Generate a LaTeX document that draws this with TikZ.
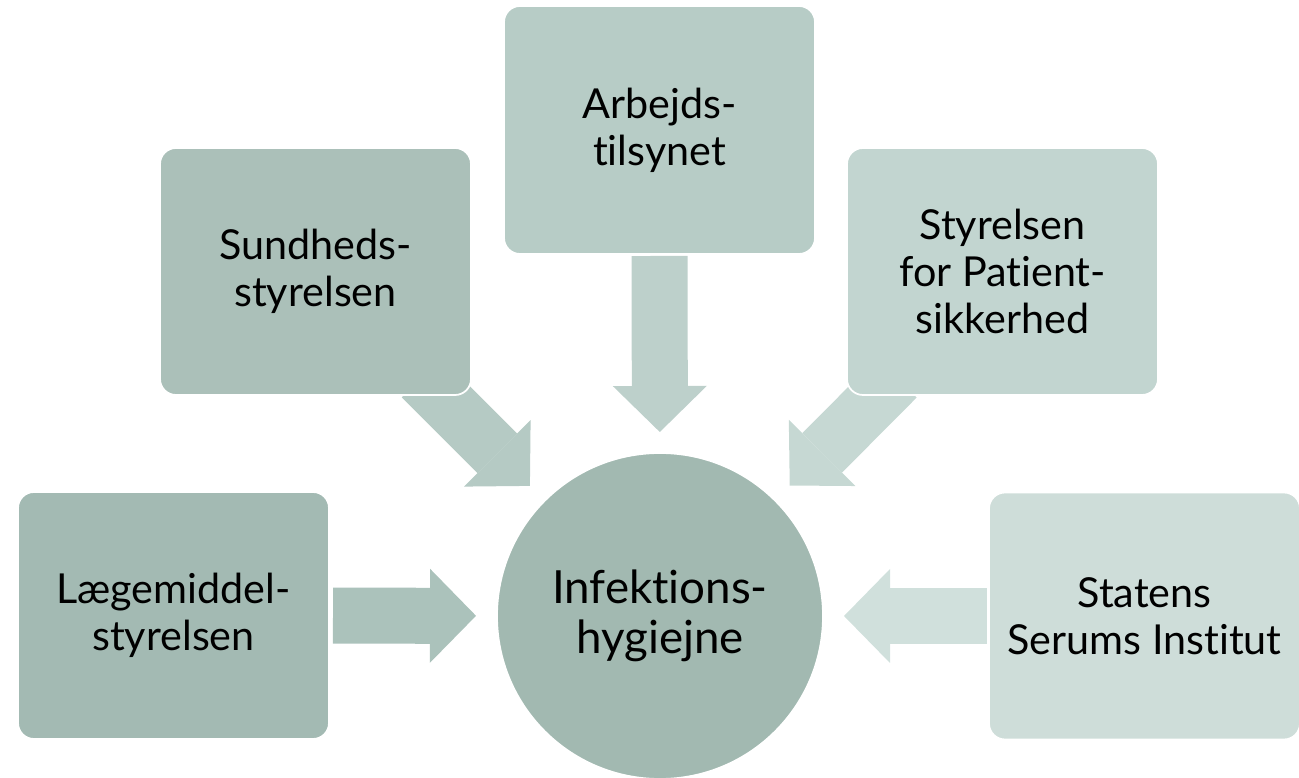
\documentclass[tikz,border=0pt]{standalone}
\usepackage{fontspec}
\setmainfont{Lato}[Ligatures=NoCommon]
\usepackage{tikz}
\usetikzlibrary{arrows.meta}

\definecolor{hubfill}{HTML}{A2B9B1}
\definecolor{lmfill}{HTML}{A3BAB3}
\definecolor{shfill}{HTML}{ABC0B9}
\definecolor{atfill}{HTML}{B7CCC6}
\definecolor{spfill}{HTML}{C2D5D0}
\definecolor{ssfill}{HTML}{CEDDD9}
\definecolor{lmarrow}{HTML}{ABC2BB}
\definecolor{sharrow}{HTML}{B5CAC4}
\definecolor{atarrow}{HTML}{BDD0CB}
\definecolor{sparrow}{HTML}{C6D8D3}
\definecolor{ssarrow}{HTML}{D0E0DC}

\tikzset{
  agency/.style={rectangle, rounded corners=0.32cm, draw=white, line width=1pt,
    minimum width=6.22cm, minimum height=4.94cm, align=center,
    font=\fontsize{23.5}{26.7}\selectfont},
  flow/.style={line width=1.12cm,
    -{Triangle[width=1.88cm, length=0.92cm, line width=0pt]}, shorten >=3.68cm}
}

\begin{document}
\begin{tikzpicture}
                \useasboundingbox (0,0) rectangle (25.98,15.56);

                % Centre circle
                \node[circle, fill=hubfill, draw=white, line width=1pt, minimum size=6.52cm,
                      align=center, font=\fontsize{26}{28.5}\selectfont]
                      (hub) at (13.2,3.24) {Infektions-\\hygiejne};

                % Surrounding agencies (positions only, drawn after the arrows)
                \path (3.47,3.25) coordinate (lmpos)
                      (6.31,10.13) coordinate (shpos)
                      (13.19,12.96) coordinate (atpos)
                      (20.05,10.13) coordinate (sppos)
                      (22.89,3.24) coordinate (sspos);

                % Block arrows into the circle
                \draw[flow, lmarrow, shorten <=3.19cm] (lmpos) -- (hub.center);
                \draw[flow, sharrow, shorten <=3.0cm] (shpos) -- (hub.center);
                \draw[flow, atarrow, shorten <=2.52cm] (atpos) -- (hub.center);
                \draw[flow, sparrow, shorten <=3.0cm] (sppos) -- (hub.center);
                \draw[flow, ssarrow, shorten <=3.16cm] (sspos) -- (hub.center);

                % Agency boxes
                \node[agency, fill=lmfill] (lms) at (lmpos) {Lægemiddel-\\styrelsen};
                \node[agency, fill=shfill] (sst) at (shpos) {Sundheds-\\styrelsen};
                \node[agency, fill=atfill, minimum height=4.96cm] (at) at (atpos) {Arbejds-\\tilsynet};
                \node[agency, fill=spfill] (stps) at (sppos) {Styrelsen\\for Patient-\\sikkerhed};
                \node[agency, fill=ssfill] (ssi) at (sspos) {Statens\\Serums Institut};
            \end{tikzpicture}
\end{document}
